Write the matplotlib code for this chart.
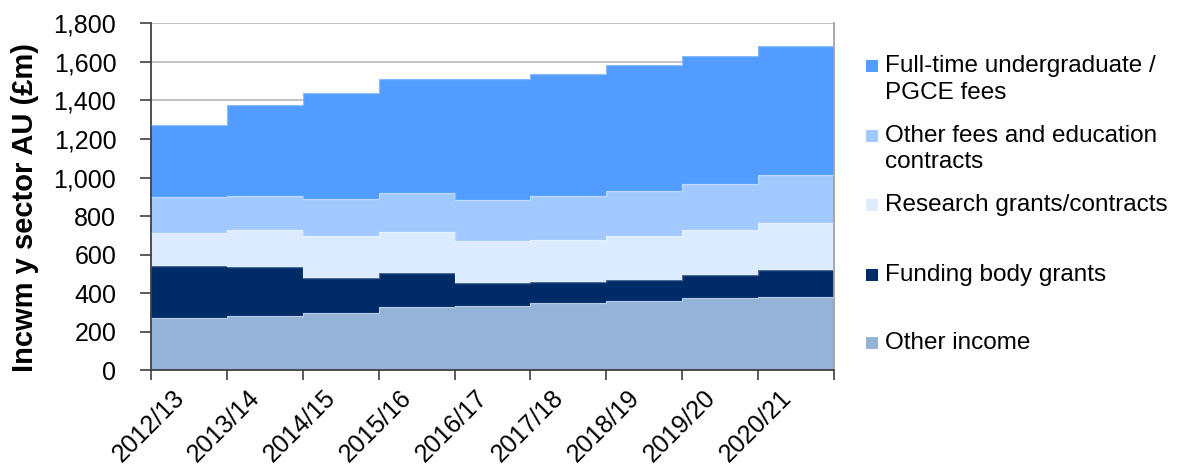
import matplotlib
matplotlib.use("Agg")
import matplotlib.pyplot as plt
from matplotlib.patches import Rectangle
import numpy as np

plt.rcParams['font.family'] = ['Liberation Sans', 'DejaVu Sans']

years = ["2012/13", "2013/14", "2014/15", "2015/16", "2016/17",
         "2017/18", "2018/19", "2019/20", "2020/21"]

other_income = [270, 283, 296, 327, 336, 347, 358, 373, 382]
funding_body = [269, 251, 185, 179, 119, 111, 110, 120, 140]
research = [173, 192, 217, 210, 215, 219, 230, 233, 242]
other_fees = [187, 178, 188, 205, 215, 229, 230, 240, 247]
ft_fees = [373, 474, 555, 590, 626, 633, 654, 664, 673]

series_names = ["Other income", "Funding body grants", "Research grants/contracts",
                "Other fees and education\ncontracts", "Full-time undergraduate /\nPGCE fees"]
series_values = [other_income, funding_body, research, other_fees, ft_fees]
colors = ["#95B3D7", "#002B69", "#DCEBFF", "#A2C9FE", "#519CFE"]

W, H = 1177, 471
fig = plt.figure(figsize=(W / 100, H / 100), dpi=100)
ax = fig.add_axes([151 / W, (H - 370.3) / H, (834 - 151) / W, (370.3 - 23.3) / H])

x = np.arange(len(years))
edges = np.arange(-0.5, len(years), 1.0)
bottom = np.zeros(len(years))
for vals, col in zip(series_values, colors):
    v = np.array(vals, dtype=float)
    ax.bar(x, v, width=1.0, bottom=bottom, color=col, edgecolor='none', zorder=2)
    bottom += v
    ax.stairs(bottom.copy(), edges, baseline=None, color='white', alpha=0.3,
              linewidth=1.0, zorder=3)

ax.set_xlim(-0.5, len(years) - 0.5)
ax.set_ylim(0, 1800)
ax.set_yticks(np.arange(0, 1801, 200))
ax.set_yticklabels([f"{v:,}" for v in range(0, 1801, 200)], fontsize=18)
ax.yaxis.grid(True, color="#BEBEBE", linewidth=1.3, zorder=0)
ax.set_axisbelow(True)

ax.set_xticks(x)
ax.set_xticklabels(years, rotation=45, ha='right', va='top', fontsize=18)
ax.tick_params(axis='x', length=0, pad=11)
ax.set_xticks(edges, minor=True)
ax.tick_params(axis='x', which='minor', length=7, width=1.2, color="#404040")
ax.tick_params(axis='y', length=8, width=1.2, color="#404040", pad=17)

ax.spines['top'].set_visible(False)
ax.spines['right'].set_color("#A0A0A0")
ax.spines['right'].set_linewidth(1.3)
ax.spines['left'].set_color("#404040")
ax.spines['left'].set_linewidth(1.3)
ax.spines['bottom'].set_color("#404040")
ax.spines['bottom'].set_linewidth(1.3)

fig.text(25 / W, 1 - 208 / H, "Incwm y sector AU (£m)", rotation=90,
         ha='center', va='center', fontsize=21, fontweight='bold')

# legend (top to bottom)
leg_y = [66, 136, 205, 275, 343]
for name, col, yy in zip(series_names[::-1], colors[::-1], leg_y):
    fig.patches.append(Rectangle((866 / W, 1 - (yy + 6) / H), 12 / W, 12 / H,
                                 transform=fig.transFigure, facecolor=col,
                                 edgecolor='none'))
    for i, line in enumerate(name.split("\n")):
        fig.text(885 / W, 1 - (yy + 26.5 * i) / H, line, ha='left', va='center',
                 fontsize=17.5)

fig.savefig("out.png", dpi=100)
